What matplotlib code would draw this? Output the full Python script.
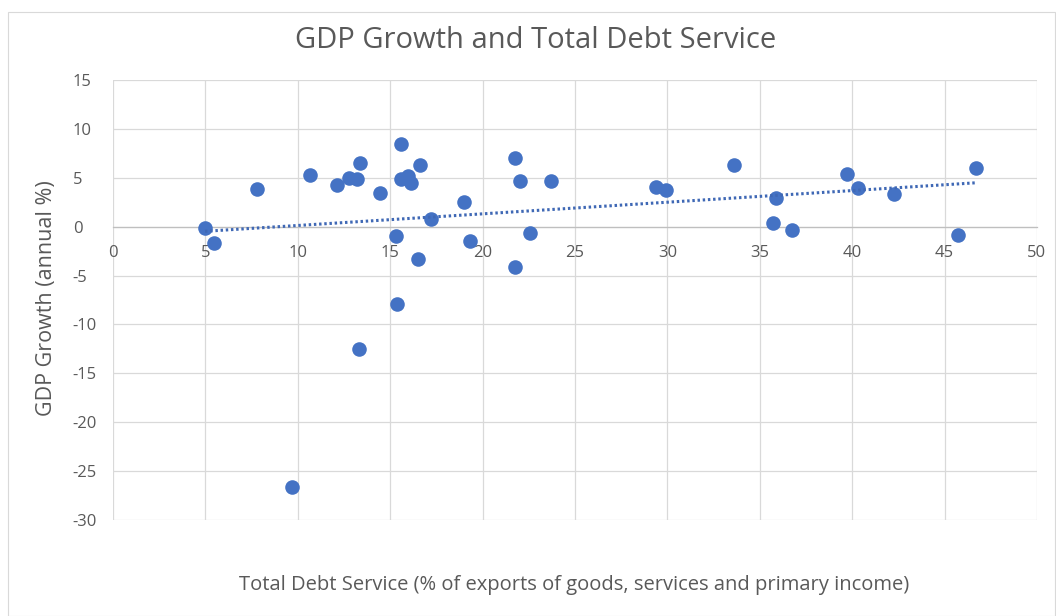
import numpy as np
import matplotlib
matplotlib.use("Agg")
import matplotlib.pyplot as plt
from matplotlib.patches import Rectangle

# Total debt service (% of exports of goods, services and primary income)
debt_service = [4.98, 5.49, 7.79, 10.67, 12.12, 12.77, 13.19, 13.35, 14.44, 15.60,
                15.31, 15.57, 15.98, 16.13, 16.60, 16.49, 17.20, 15.35, 19.02, 19.33,
                21.74, 22.05, 22.59, 21.74, 23.70, 13.32, 9.70, 29.41, 29.90, 33.62,
                35.88, 35.73, 36.73, 39.71, 40.32, 42.28, 45.73, 46.68]
# GDP growth (annual %)
gdp_growth = [-0.1, -1.7, 3.85, 5.3, 4.3, 4.96, 4.86, 6.56, 3.47, 8.44,
              -0.99, 4.86, 5.14, 4.42, 6.33, -3.3, 0.8, -7.9, 2.55, -1.5,
              7.07, 4.7, -0.68, -4.08, 4.7, -12.48, -26.6, 4.08, 3.72, 6.35,
              2.97, 0.41, -0.37, 5.34, 3.98, 3.37, -0.81, 5.95]

x_ticks = [0, 5, 10, 15, 20, 25, 30, 35, 40, 45, 50]
y_ticks = [-30, -25, -20, -15, -10, -5, 0, 5, 10, 15]

title = "GDP Growth and Total Debt Service"
x_title = "Total Debt Service (% of exports of goods, services and primary income)"
y_title = "GDP Growth (annual %)"

blue = "#4472C4"
grid_col = "#D9D9D9"
text_col = "#595959"
font = ["Open Sans", "DejaVu Sans"]

plt.rcParams["font.family"] = font
plt.rcParams["axes.unicode_minus"] = False

fig = plt.figure(figsize=(10.56, 6.16), dpi=100)
fig.patch.set_facecolor("white")
# chart frame
fig.add_artist(Rectangle((8 / 1056, 0), 1 - 8 / 1056 - 0.0005, 1 - 12 / 616,
                         transform=fig.transFigure, fill=False,
                         edgecolor="#D9D9D9", linewidth=0.8))

ax = fig.add_axes([113 / 1056, 1 - 520 / 616, (1037 - 113) / 1056, (520 - 80) / 616])
ax.set_xlim(0, 50)
ax.set_ylim(-30, 15)
ax.set_xticks(x_ticks)
ax.set_yticks(y_ticks)
ax.grid(True, color=grid_col, linewidth=0.9)
ax.set_axisbelow(True)

for side in ("top", "right", "left"):
    ax.spines[side].set_visible(False)
ax.spines["bottom"].set_position(("data", 0))
ax.spines["bottom"].set_color("#BFBFBF")
ax.spines["bottom"].set_linewidth(0.9)

ax.tick_params(axis="both", length=0, labelsize=12, labelcolor=text_col)
ax.tick_params(axis="x", pad=13)
ax.tick_params(axis="y", pad=29)
for lab in ax.get_yticklabels():
    lab.set_horizontalalignment("left")

ax.scatter(debt_service, gdp_growth, s=110, color=blue, zorder=3, linewidths=0)

# linear trendline
xs = np.array(debt_service)
ys = np.array(gdp_growth)
slope, intercept = np.polyfit(xs, ys, 1)
tx = np.array([xs.min(), xs.max()])
ax.plot(tx, slope * tx + intercept, color="#3F68B5", linewidth=2.2,
        linestyle=(0, (0.8, 0.9)), zorder=4)

fig.text(536 / 1056, 1 - 40 / 616, title, ha="center", va="center",
         fontsize=21, color=text_col)
fig.text(574 / 1056, 1 - 585 / 616, x_title, ha="center", va="center",
         fontsize=14.5, color=text_col)
fig.text(47 / 1056, 1 - 298 / 616, y_title, ha="center", va="center",
         rotation=90, fontsize=15.5, color=text_col)

fig.savefig("out.png", dpi=100, facecolor="white")
